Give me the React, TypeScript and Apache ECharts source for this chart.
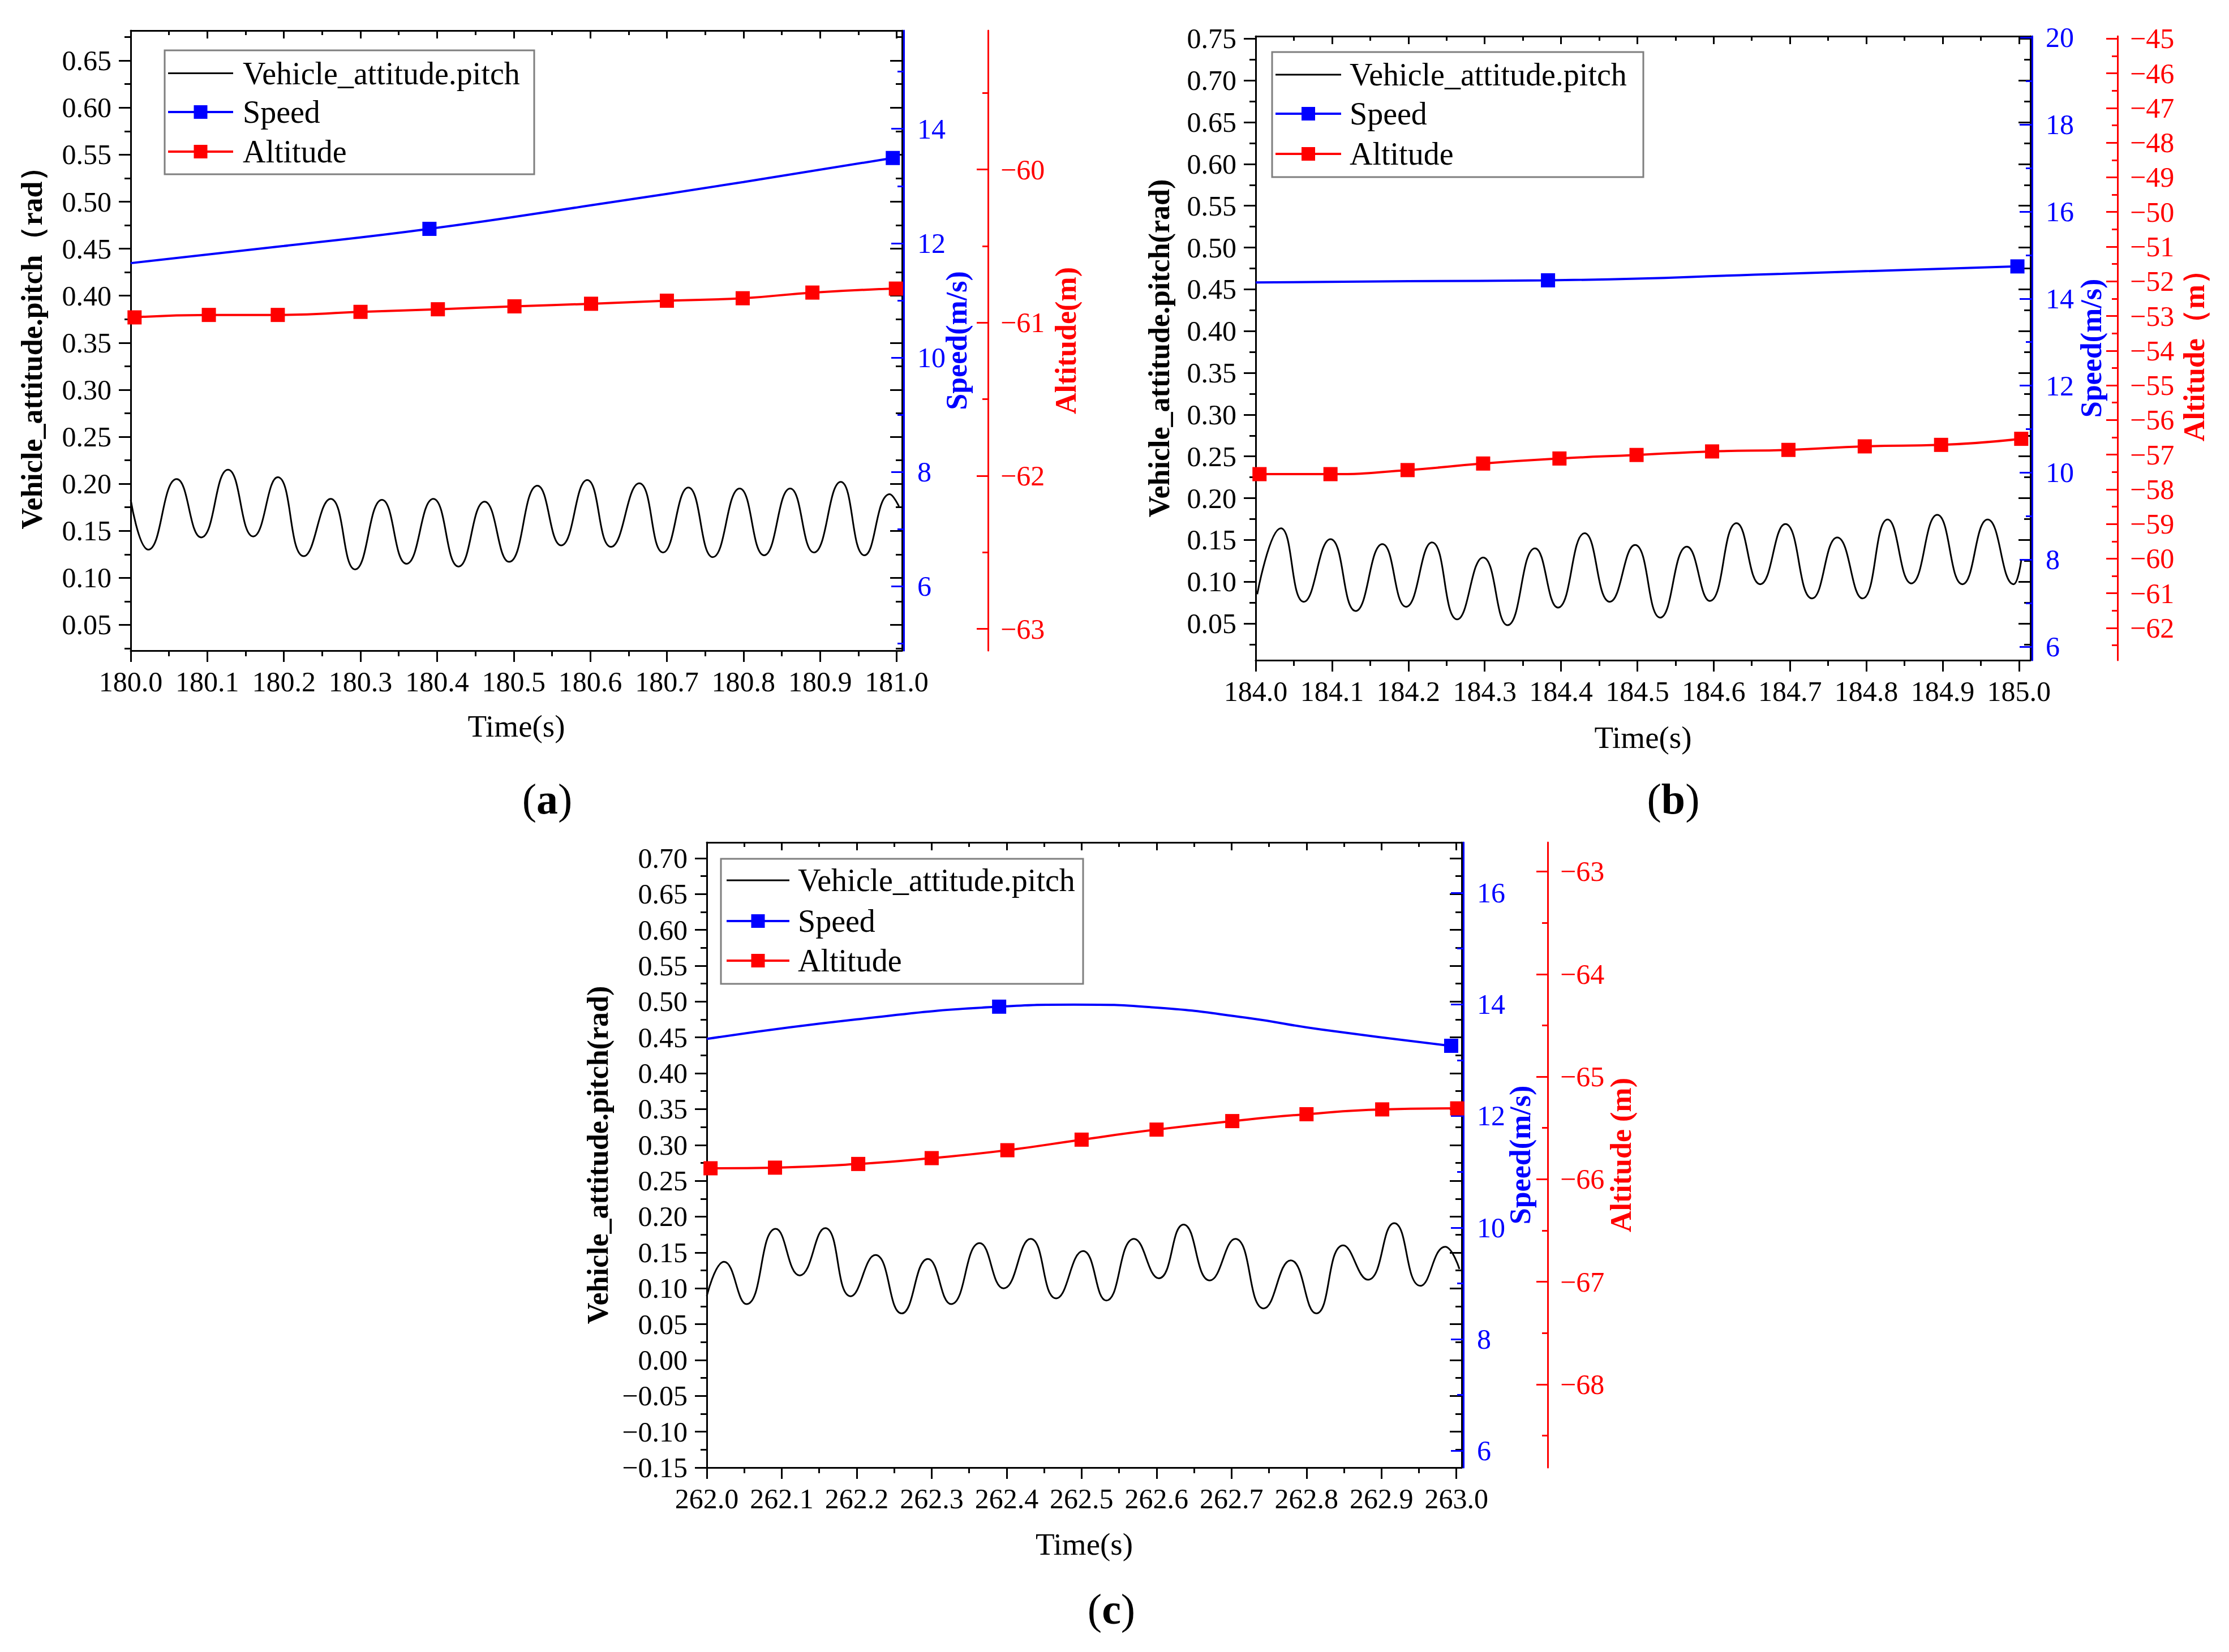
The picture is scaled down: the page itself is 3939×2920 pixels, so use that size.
import React, { useEffect, useRef } from "react";
import * as echarts from "echarts";

// ---------------- Panel (a) data ----------------
const pitchTimeA = [180.000,180.023,180.060,180.092,180.127,180.160,180.192,180.226,180.261,180.293,180.328,180.360,180.395,180.428,180.462,180.494,180.531,180.562,180.596,180.627,180.664,180.695,180.728,180.760,180.795,180.827,180.861,180.892,180.927,180.958,180.991,181.003];
const pitchValA = [0.183,0.130,0.205,0.143,0.215,0.144,0.207,0.123,0.184,0.109,0.183,0.115,0.184,0.112,0.181,0.117,0.198,0.1345,0.204,0.133,0.2005,0.127,0.196,0.122,0.195,0.124,0.195,0.127,0.202,0.124,0.189,0.176];
const speedTimeA = [180.0,180.2,180.39,180.6,180.8,180.995];
const speedValA = [11.65,11.95,12.25,12.66,13.07,13.49];
const speedMarkA = [false,false,true,false,false,true];
const altTimeA = [180.005,180.102,180.192,180.300,180.401,180.501,180.601,180.700,180.799,180.890,180.999];
const altValA = [-60.966,-60.950,-60.950,-60.930,-60.913,-60.894,-60.877,-60.857,-60.841,-60.804,-60.778];
const xTicksA = [180.0,180.1,180.2,180.3,180.4,180.5,180.6,180.7,180.8,180.9,181.0];
const pitchTicksA = [0.05,0.10,0.15,0.20,0.25,0.30,0.35,0.40,0.45,0.50,0.55,0.60,0.65];
const speedTicksA = [6,8,10,12,14];
const altTicksA = [-63,-62,-61,-60];

// ---------------- Panel (b) data ----------------
const pitchTimeB = [184.002,184.033,184.063,184.098,184.131,184.166,184.197,184.231,184.264,184.298,184.330,184.366,184.396,184.431,184.464,184.497,184.530,184.565,184.595,184.630,184.661,184.694,184.729,184.762,184.795,184.828,184.859,184.893,184.926,184.959,184.993,185.003];
const pitchValB = [0.085,0.164,0.076,0.151,0.065,0.145,0.070,0.147,0.055,0.129,0.048,0.140,0.069,0.158,0.076,0.144,0.057,0.142,0.077,0.170,0.097,0.169,0.080,0.153,0.080,0.1745,0.098,0.180,0.097,0.1745,0.097,0.1255];
const speedTimeB = [184.0,184.2,184.383,184.69,184.998];
const speedValB = [14.37,14.40,14.42,14.57,14.74];
const speedMarkB = [false,false,true,false,true];
const altTimeB = [184.005,184.098,184.199,184.298,184.398,184.499,184.598,184.698,184.798,184.898,185.003];
const altValB = [-57.562,-57.562,-57.445,-57.256,-57.111,-57.009,-56.907,-56.863,-56.761,-56.718,-56.543];
const xTicksB = [184.0,184.1,184.2,184.3,184.4,184.5,184.6,184.7,184.8,184.9,185.0];
const pitchTicksB = [0.05,0.10,0.15,0.20,0.25,0.30,0.35,0.40,0.45,0.50,0.55,0.60,0.65,0.70,0.75];
const speedTicksB = [6,8,10,12,14,16,18,20];
const altTicksB = [-62,-61,-60,-59,-58,-57,-56,-55,-54,-53,-52,-51,-50,-49,-48,-47,-46,-45];

// ---------------- Panel (c) data ----------------
const pitchTimeC = [262.000,262.023,262.053,262.092,262.124,262.158,262.192,262.225,262.260,262.295,262.326,262.364,262.396,262.432,262.466,262.502,262.533,262.570,262.603,262.636,262.671,262.705,262.743,262.779,262.813,262.849,262.882,262.917,262.952,262.985,263.004];
const pitchValC = [0.089,0.137,0.078,0.183,0.118,0.184,0.089,0.1465,0.065,0.141,0.078,0.163,0.100,0.169,0.086,0.152,0.083,0.169,0.114,0.189,0.111,0.169,0.072,0.139,0.065,0.160,0.112,0.191,0.1035,0.158,0.127];
const speedTimeC = [262.0,262.2,262.39,262.49,262.597,262.719,262.82,262.993];
const speedValC = [13.38,13.73,13.957,13.994,13.943,13.76,13.547,13.256];
const speedMarkC = [false,false,true,false,false,false,false,true];
const altTimeC = [262.005,262.091,262.202,262.300,262.401,262.500,262.600,262.701,262.800,262.901,263.001];
const altValC = [-65.893,-65.887,-65.851,-65.794,-65.717,-65.614,-65.516,-65.433,-65.366,-65.319,-65.309];
const xTicksC = [262.0,262.1,262.2,262.3,262.4,262.5,262.6,262.7,262.8,262.9,263.0];
const pitchTicksC = [-0.15,-0.10,-0.05,0.00,0.05,0.10,0.15,0.20,0.25,0.30,0.35,0.40,0.45,0.50,0.55,0.60,0.65,0.70];
const speedTicksC = [6,8,10,12,14,16];
const altTicksC = [-68,-67,-66,-65,-64,-63];

const legendNames = ["Vehicle_attitude.pitch", "Speed", "Altitude"];
const panelLetters = ["a", "b", "c"];

// ---------------- layout / styling ----------------
const SERIF = "Liberation Serif";
const BLUE = "#0000ff";
const RED = "#ff0000";
const LABEL_SIZE = 50;
const NAME_SIZE = 52;

const panels = [
  {
    grid: { left: 231, top: 54, width: 1363, height: 1096 },
    xr: [180, 181.007], pr: [0.0226, 0.682], sr: [4.87, 15.72], ar: [-63.142, -59.093],
    xTicks: xTicksA, pTicks: pitchTicksA, sTicks: speedTicksA, aTicks: altTicksA,
    pitchT: pitchTimeA, pitchV: pitchValA, speedT: speedTimeA, speedV: speedValA, speedM: speedMarkA, altT: altTimeA, altV: altValA,
    pName: "Vehicle_attitude.pitch（rad）", sName: "Speed(m/s)", aName: "Altitude(m)",
    gaps: { p: 149, s: 67, a: 111, t: 106 }, altOffset: 152,
    legend: { x: 291, y: 89, w: 653, h: 219, rows: [129.5, 198, 268], l1: 297, l2: 412, tx: 429 },
    label: { x: 967, y: 1412 },
  },
  {
    grid: { left: 2219, top: 64, width: 1369, height: 1103 },
    xr: [184, 185.015], pr: [0.006, 0.753], sr: [5.69, 20.03], ar: [-62.93, -44.93],
    xTicks: xTicksB, pTicks: pitchTicksB, sTicks: speedTicksB, aTicks: altTicksB,
    pitchT: pitchTimeB, pitchV: pitchValB, speedT: speedTimeB, speedV: speedValB, speedM: speedMarkB, altT: altTimeB, altV: altValB,
    pName: "Vehicle_attitude.pitch(rad)", sName: "Speed(m/s)", aName: "Altitude（m）",
    gaps: { p: 145, s: 78, a: 109, t: 109 }, altOffset: 154,
    legend: { x: 2248, y: 92, w: 656, h: 221, rows: [132, 201, 272], l1: 2254, l2: 2370, tx: 2385 },
    label: { x: 2957, y: 1412 },
  },
  {
    grid: { left: 1249, top: 1489, width: 1334, height: 1105 },
    xr: [262, 263.007], pr: [-0.15, 0.722], sr: [5.70, 16.90], ar: [-68.811, -62.716],
    xTicks: xTicksC, pTicks: pitchTicksC, sTicks: speedTicksC, aTicks: altTicksC,
    pitchT: pitchTimeC, pitchV: pitchValC, speedT: speedTimeC, speedV: speedValC, speedM: speedMarkC, altT: altTimeC, altV: altValC,
    pName: "Vehicle_attitude.pitch(rad)", sName: "Speed(m/s)", aName: "Altitude (m)",
    gaps: { p: 167, s: 74, a: 103, t: 108 }, altOffset: 152,
    legend: { x: 1274, y: 1518, w: 640, h: 221, rows: [1556, 1628, 1698], l1: 1284, l2: 1395, tx: 1410 },
    label: { x: 1964, y: 2844 },
  },
];

function fmt(v: number, d: number) {
  const s = Math.abs(v).toFixed(d);
  return v < -1e-9 ? "\u2212" + s : s;
}

function oddMultiples(half: number, min: number, max: number) {
  const out: number[] = [];
  const k0 = Math.ceil(min / half - 1e-6);
  const k1 = Math.floor(max / half + 1e-6);
  for (let k = k0; k <= k1; k++) if (Math.abs(k % 2) === 1) out.push(+(k * half).toFixed(6));
  return out;
}

function axis(o: any) {
  const a: any = {
    type: "value",
    gridIndex: o.grid,
    min: o.min,
    max: o.max,
    position: o.position,
    offset: o.offset || 0,
    axisLine: { show: !!o.line, onZero: false, lineStyle: { color: o.line || "#000", width: 3 } },
    axisTick: {
      show: true,
      inside: !!o.inside,
      length: o.len,
      customValues: o.ticks,
      lineStyle: { color: o.tickColor || "#000", width: 3 },
    },
    axisLabel: o.labels
      ? {
          show: true,
          customValues: o.ticks,
          formatter: (v: number) => fmt(v, o.dec),
          color: o.labelColor || "#000",
          fontSize: LABEL_SIZE,
          fontFamily: SERIF,
          fontWeight: "normal",
          margin: o.margin,
        }
      : { show: false },
    splitLine: { show: false },
    minorTick: { show: false },
    axisPointer: { show: false },
    silent: true,
  };
  if (o.name) {
    a.name = o.name;
    a.nameLocation = "middle";
    a.nameGap = o.nameGap;
    a.nameMoveOverlap = false;
    a.nameTextStyle = {
      fontSize: o.nameSize || NAME_SIZE,
      fontFamily: SERIF,
      fontWeight: o.nameWeight || "bold",
      color: o.nameColor || "#000",
    };
  }
  return a;
}

function buildOption() {
  const grid: any[] = [];
  const xAxis: any[] = [];
  const yAxis: any[] = [];
  const series: any[] = [];
  const graphic: any[] = [];

  panels.forEach((p, gi) => {
    grid.push({ ...p.grid, containLabel: false });
    const [x0, x1] = p.xr;
    const [p0, p1] = p.pr;
    const [s0, s1] = p.sr;
    const [a0, a1] = p.ar;
    const xMinor = oddMultiples(0.05, x0, x1);
    const pMinor = oddMultiples(0.025, p0, p1);
    const sMinor = oddMultiples(1, s0, s1);
    const aMinor = oddMultiples(0.5, a0, a1);

    // x axes: bottom major (labels), bottom minor, top major, top minor
    xAxis.push(axis({ grid: gi, min: x0, max: x1, position: "bottom", line: "#000", len: 20, ticks: p.xTicks, labels: true, dec: 1, margin: 30, name: "Time(s)", nameGap: p.gaps.t, nameSize: 55, nameWeight: "normal" }));
    xAxis.push(axis({ grid: gi, min: x0, max: x1, position: "bottom", len: 10, ticks: xMinor }));
    xAxis.push(axis({ grid: gi, min: x0, max: x1, position: "top", line: "#000", inside: true, len: 14, ticks: p.xTicks }));
    xAxis.push(axis({ grid: gi, min: x0, max: x1, position: "top", inside: true, len: 8, ticks: xMinor }));

    // y axes
    yAxis.push(axis({ grid: gi, min: p0, max: p1, position: "left", line: "#000", len: 21, ticks: p.pTicks, labels: true, dec: 2, margin: 34, name: p.pName, nameGap: p.gaps.p }));
    yAxis.push(axis({ grid: gi, min: p0, max: p1, position: "left", len: 11, ticks: pMinor }));
    yAxis.push(axis({ grid: gi, min: p0, max: p1, position: "right", line: "#000", inside: true, len: 21, ticks: p.pTicks }));
    yAxis.push(axis({ grid: gi, min: p0, max: p1, position: "right", inside: true, len: 11, ticks: pMinor }));
    yAxis.push(axis({ grid: gi, min: s0, max: s1, position: "right", offset: 3, line: BLUE, tickColor: BLUE, inside: true, len: 22, ticks: p.sTicks, labels: true, dec: 0, labelColor: BLUE, margin: 24, name: p.sName, nameGap: p.gaps.s, nameColor: BLUE }));
    yAxis.push(axis({ grid: gi, min: s0, max: s1, position: "right", offset: 3, tickColor: BLUE, inside: true, len: 11, ticks: sMinor }));
    yAxis.push(axis({ grid: gi, min: a0, max: a1, position: "right", offset: p.altOffset, line: RED, tickColor: RED, inside: true, len: 20, ticks: p.aTicks, labels: true, dec: 0, labelColor: RED, margin: 22, name: p.aName, nameGap: p.gaps.a, nameColor: RED }));
    yAxis.push(axis({ grid: gi, min: a0, max: a1, position: "right", offset: p.altOffset, tickColor: RED, inside: true, len: 10, ticks: aMinor }));

    const xi = gi * 4;
    const yi = gi * 8;
    series.push({
      type: "line",
      name: legendNames[0],
      xAxisIndex: xi,
      yAxisIndex: yi,
      data: p.pitchT.map((t, i) => [t, p.pitchV[i]]),
      smooth: 0.5,
      symbol: "none",
      lineStyle: { color: "#000", width: 3 },
      silent: true,
    });
    series.push({
      type: "line",
      name: legendNames[1],
      xAxisIndex: xi,
      yAxisIndex: yi + 4,
      data: p.speedT.map((t, i) => ({ value: [t, p.speedV[i]], symbol: p.speedM[i] ? "rect" : "none" })),
      smooth: 0.5,
      symbol: "rect",
      symbolSize: 25,
      showAllSymbol: true,
      itemStyle: { color: BLUE },
      lineStyle: { color: BLUE, width: 4 },
      silent: true,
    });
    series.push({
      type: "line",
      name: legendNames[2],
      xAxisIndex: xi,
      yAxisIndex: yi + 6,
      data: p.altT.map((t, i) => [t, p.altV[i]]),
      smooth: 0.5,
      symbol: "rect",
      symbolSize: 25,
      showAllSymbol: true,
      itemStyle: { color: RED },
      lineStyle: { color: RED, width: 4 },
      silent: true,
    });

    // legend box
    const L = p.legend;
    graphic.push({ type: "rect", z: 100, shape: { x: L.x, y: L.y, width: L.w, height: L.h }, style: { fill: "#fff", stroke: "#7f7f7f", lineWidth: 3 } });
    const colors = ["#000", BLUE, RED];
    legendNames.forEach((nm, k) => {
      const cy = L.rows[k];
      graphic.push({ type: "line", z: 101, shape: { x1: L.l1, y1: cy, x2: L.l2, y2: cy }, style: { stroke: colors[k], lineWidth: k === 0 ? 3 : 4 } });
      if (k > 0) {
        const cx = (L.l1 + L.l2) / 2;
        graphic.push({ type: "rect", z: 102, shape: { x: cx - 12, y: cy - 12, width: 24, height: 24 }, style: { fill: colors[k] } });
      }
      graphic.push({ type: "text", z: 102, x: L.tx, y: cy, style: { text: nm, fontSize: 56, fontFamily: SERIF, fill: "#000", verticalAlign: "middle", align: "left" } });
    });

    // panel label
    graphic.push({
      type: "text",
      z: 100,
      x: p.label.x,
      y: p.label.y,
      style: {
        text: "{p|(}{b|" + panelLetters[gi] + "}{p|)}",
        align: "center",
        verticalAlign: "middle",
        rich: {
          p: { fontSize: 76, fontFamily: SERIF, fill: "#000" },
          b: { fontSize: 76, fontFamily: SERIF, fontWeight: "bold", fill: "#000" },
        },
      },
    });
  });

  return {
    animation: false,
    backgroundColor: "#ffffff",
    textStyle: { fontFamily: SERIF },
    grid,
    xAxis,
    yAxis,
    series,
    graphic,
  };
}

export default function App() {
  const ref = useRef<HTMLDivElement>(null);
  useEffect(() => {
    if (!ref.current) return;
    const chart = echarts.init(ref.current, undefined, { renderer: "svg" });
    chart.setOption(buildOption() as any);
    return () => chart.dispose();
  }, []);
  return <div ref={ref} style={{ position: "absolute", left: 0, top: 0, width: 3939, height: 2920, background: "#fff" }} />;
}
